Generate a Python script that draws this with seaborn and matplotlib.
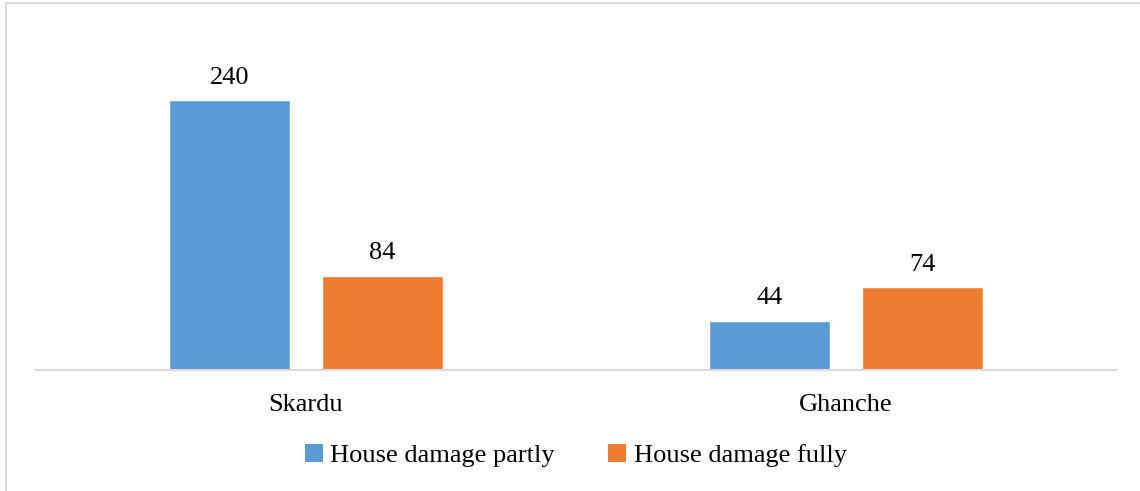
import matplotlib
matplotlib.use('Agg')

import pandas as pd
import matplotlib.pyplot as plt
import seaborn as sns
from matplotlib.patches import Patch
from matplotlib.lines import Line2D

sns.set_theme(style="white")
plt.rcParams['font.family'] = ['Liberation Serif', 'DejaVu Serif']
plt.rcParams['text.color'] = '#000000'

# 데이터
districts = ["Skardu", "Ghanche"]
series = ["House damage partly", "House damage fully"]
partly = [240, 44]
fully = [84, 74]
colors = ["#5B9BD5", "#ED7D31"]

df = pd.DataFrame({
    "district": districts * 2,
    "type": [series[0]] * 2 + [series[1]] * 2,
    "count": partly + fully,
})

fig = plt.figure(figsize=(11.4, 4.91), dpi=100)
ax = fig.add_axes([0.0316, 0.2464, 0.9474, 0.6874])

sns.barplot(data=df, x="district", y="count", hue="type", order=districts,
            hue_order=series, palette=colors, width=0.567, gap=0.21,
            saturation=1, legend=False, ax=ax)

for c in ax.containers:
    ax.bar_label(c, fmt="%d", padding=8, fontsize=19, color="#000000")

ax.set_xlim(-0.5, 1.5)
ax.set_ylim(0, 300)
ax.set_xlabel("")
ax.set_ylabel("")
ax.set_yticks([])
ax.tick_params(axis="x", length=0, pad=17, labelsize=19, labelcolor="#000000")
for s in ["top", "left", "right"]:
    ax.spines[s].set_visible(False)
ax.spines["bottom"].set_color("#D9D9D9")
ax.spines["bottom"].set_linewidth(1.5)

handles = [Patch(facecolor=colors[i], edgecolor="none", label=series[i]) for i in range(2)]
fig.legend(handles=handles, loc="center", bbox_to_anchor=(0.505, 0.073), ncol=2,
           frameon=False, fontsize=19, handlelength=0.68, handleheight=0.68,
           handletextpad=0.3, columnspacing=2.0, labelcolor="#000000")

# 차트 테두리
fig.add_artist(Line2D([6 / 1140, 6 / 1140], [0, 1 - 3 / 491], color="#D9D9D9", lw=1.5,
                      transform=fig.transFigure))
fig.add_artist(Line2D([6 / 1140, 1], [1 - 3 / 491, 1 - 3 / 491], color="#D9D9D9", lw=1.5,
                      transform=fig.transFigure))

plt.savefig("out.png", dpi=100)
plt.close()
